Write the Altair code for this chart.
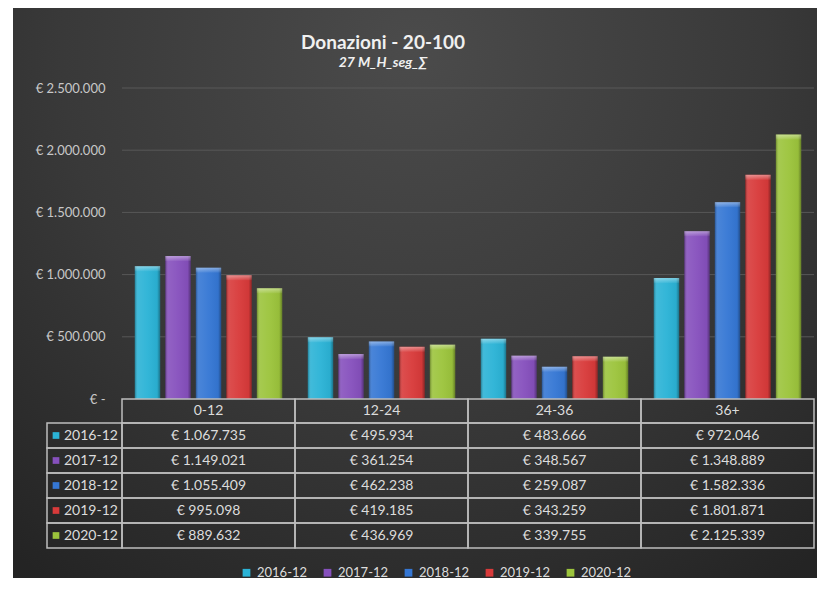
import altair as alt
import pandas as pd

categories = ["0-12", "12-24", "24-36", "36+"]
series = ["2016-12", "2017-12", "2018-12", "2019-12", "2020-12"]
values_2016 = [1067735, 495934, 483666, 972046]
values_2017 = [1149021, 361254, 348567, 1348889]
values_2018 = [1055409, 462238, 259087, 1582336]
values_2019 = [995098, 419185, 343259, 1801871]
values_2020 = [889632, 436969, 339755, 2125339]
colors = ["#2bb3d6", "#8650bd", "#3577d4", "#d83a3a", "#9cc43c"]
y_ticks = [0, 500000, 1000000, 1500000, 2000000, 2500000]
grid_ticks = [500000, 1000000, 1500000, 2000000, 2500000]
title_text = "Donazioni - 20-100"
subtitle_text = "27 M_H_seg_∑"

all_values = [values_2016, values_2017, values_2018, values_2019, values_2020]
rows = []
for s, vals in zip(series, all_values):
    for c, v in zip(categories, vals):
        rows.append({"cat": c, "series": s, "value": v,
                     "label": "€ " + f"{v:,}".replace(",", ".")})
df = pd.DataFrame(rows)
cat_df = pd.DataFrame({"cat": categories})
ser_df = pd.DataFrame({"series": series})

W, H = 692, 311
FONT = "Lato"
TXT = "#dcdcdc"
BORDER = "#bdbdbd"

x_enc = alt.X("cat:N", scale=alt.Scale(domain=categories, paddingInner=0, paddingOuter=0), axis=None)
xoff = alt.XOffset("series:N", scale=alt.Scale(domain=series, paddingInner=0.17, paddingOuter=0.42))
yscale = alt.Scale(domain=[0, 2500000], nice=False)
yaxis = alt.Axis(values=y_ticks,
                 labelExpr="datum.value == 0 ? '€ -\u00a0\u00a0' : '€ ' + replace(format(datum.value, ',d'), regexp(',', 'g'), '.')",
                 grid=False, domain=False, ticks=False, labelFont=FONT, labelFontSize=13,
                 labelColor="#c8c8c8", labelPadding=17, title=None, zindex=1)
legend = alt.Legend(orient="none", legendX=118, legendY=478, direction="horizontal", title=None,
                    symbolType="square", symbolSize=60, symbolStrokeWidth=0, labelFont=FONT,
                    labelFontSize=13, labelColor=TXT, columnPadding=13, labelOffset=4, padding=0)
color_enc = alt.Color("series:N", scale=alt.Scale(domain=series, range=colors), legend=legend)

one = pd.DataFrame({"a": [0]})
bg = alt.Chart(one).mark_rect(
    fill=alt.RadialGradient(gradient="radial",
                            stops=[alt.GradientStop(offset=0, color="#4b4b4b"),
                                   alt.GradientStop(offset=0.55, color="#393939"),
                                   alt.GradientStop(offset=1, color="#242424")],
                            x1=0.5, y1=0.2, r1=0, x2=0.5, y2=0.2, r2=0.8)
).encode(x=alt.value(-109), x2=alt.value(W + 3), y=alt.value(-80), y2=alt.value(490))

title = alt.Chart(one).mark_text(font=FONT, fontSize=19, fontWeight="bold", color="#f0f0f0",
                                 baseline="alphabetic", align="center").encode(
    x=alt.value(261), y=alt.value(-39), text=alt.value(title_text))
subtitle = alt.Chart(one).mark_text(font=FONT, fontSize=14, fontWeight="bold", fontStyle="italic",
                                    color="#f0f0f0", baseline="alphabetic", align="center").encode(
    x=alt.value(261), y=alt.value(-21), text=alt.value(subtitle_text))

grid = alt.Chart(pd.DataFrame({"v": grid_ticks})).mark_rule(color="#585858", strokeWidth=1).encode(
    y=alt.Y("v:Q", scale=yscale, axis=yaxis))

bars = alt.Chart(df).mark_bar().encode(
    x=x_enc, xOffset=xoff, y=alt.Y("value:Q", scale=yscale, axis=yaxis), color=color_enc)

shade = alt.LinearGradient(gradient="linear", x1=0, y1=0, x2=1, y2=0, stops=[
    alt.GradientStop(offset=0, color="rgba(0,0,0,0.30)"),
    alt.GradientStop(offset=0.12, color="rgba(255,255,255,0.10)"),
    alt.GradientStop(offset=0.5, color="rgba(255,255,255,0.04)"),
    alt.GradientStop(offset=0.88, color="rgba(0,0,0,0.04)"),
    alt.GradientStop(offset=1, color="rgba(0,0,0,0.35)")])
overlay = alt.Chart(df).mark_bar(fill=shade).encode(
    x=x_enc, xOffset=xoff, y=alt.Y("value:Q", scale=yscale, axis=yaxis))

cap_grad = alt.LinearGradient(gradient="linear", x1=0, y1=0, x2=0, y2=1, stops=[
    alt.GradientStop(offset=0, color="rgba(255,255,255,0.40)"),
    alt.GradientStop(offset=1, color="rgba(255,255,255,0.05)")])
cap = alt.Chart(df).transform_calculate(cap="datum.value - 40000").mark_bar(fill=cap_grad).encode(
    x=x_enc, xOffset=xoff, y=alt.Y("value:Q", scale=yscale, axis=yaxis), y2="cap:Q")

quant = alt.layer(bg, title, subtitle, grid, bars, overlay, cap)

yrow = alt.Y("series:N", scale=alt.Scale(domain=series, range=[335, 460], paddingInner=0, paddingOuter=0), axis=None)
cell_style = dict(fill="#000000", fillOpacity=0, stroke=BORDER, strokeWidth=1.5)

head_cells = alt.Chart(cat_df).mark_rect(**cell_style).encode(x=x_enc, y=alt.value(311), y2=alt.value(335))
head_text = alt.Chart(cat_df).mark_text(font=FONT, fontSize=14, color=TXT).encode(
    x=x_enc, y=alt.value(323), text="cat:N")
cells = alt.Chart(df).mark_rect(**cell_style).encode(x=x_enc, y=yrow)
vals = alt.Chart(df).mark_text(font=FONT, fontSize=14, color=TXT).encode(x=x_enc, y=yrow, text="label:N")
row_cells = alt.Chart(ser_df).mark_rect(**cell_style).encode(x=alt.value(-75), x2=alt.value(0), y=yrow)
row_sq = alt.Chart(ser_df).mark_square(size=45, opacity=1).encode(x=alt.value(-66), y=yrow, color=color_enc)
row_txt = alt.Chart(ser_df).mark_text(align="left", font=FONT, fontSize=14, color=TXT).encode(
    x=alt.value(-58), y=yrow, text="series:N")

table = alt.layer(head_cells, head_text, cells, vals, row_cells, row_sq, row_txt)

chart = alt.layer(quant, table).resolve_scale(y="independent").properties(
    width=W, height=H,
    padding={"left": 5, "top": 0, "right": 0, "bottom": 0},
    background="white",
).configure_view(stroke=None)

chart.save("out.html", embed_options={"renderer": "svg", "actions": False})
